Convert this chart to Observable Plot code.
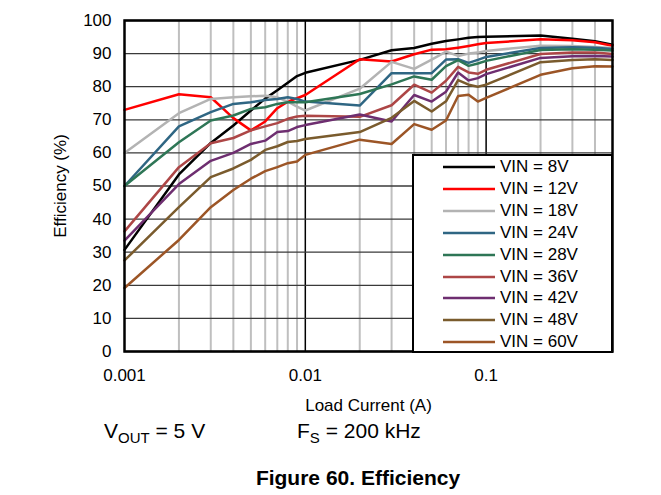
<!DOCTYPE html>
<html><head><meta charset="utf-8">
<script src="https://cdn.jsdelivr.net/npm/d3@7"></script>
<script src="https://cdn.jsdelivr.net/npm/@observablehq/plot@0.6"></script>
<style>
body{margin:0;background:#fff;font-family:"Liberation Sans",Arial,sans-serif;color:#000;}
#wrap{position:relative;width:661px;height:495px;overflow:hidden;background:#fff;}
#topline{position:absolute;left:0;top:2px;width:661px;height:0;border-top:1px solid #555;}
#legend{position:absolute;left:412px;top:154px;width:197px;height:195px;border:2px solid #000;background:#fff;box-sizing:content-box;}
.row{position:absolute;left:0;height:22px;display:flex;align-items:center;font-size:17px;}
.row svg{margin-left:29px;margin-right:5px;}
#cap1{position:absolute;left:104px;top:419px;font-size:21px;}
#cap2{position:absolute;left:297px;top:419px;font-size:21px;}
sub{font-size:15px;vertical-align:-5px;line-height:0;}
#title{position:absolute;left:0;width:716px;text-align:center;top:466px;font-size:21px;font-weight:bold;}
</style></head><body><div id="wrap"><div id="topline"></div></div>
<script>
const loadCurrent = [0.001,0.002,0.003,0.004,0.005,0.006,0.007,0.008,0.009,0.01,0.02,0.03,0.04,0.05,0.06,0.07,0.08,0.09,0.1,0.2,0.3,0.4,0.5];
const vin8  = [30.7,53.5,63,68.3,72.8,76.4,78.9,81.2,83.2,84.2, 88.1,91,91.7,93,93.8,94.3,94.8,95,95.1, 95.5,94.5,93.7,92.7];
const vin12 = [73,77.7,76.8,70.5,66.8,69.5,73.5,75.5,76.5,77.5, 88.3,87.6,89.8,91.2,91.3,91.8,92.3,92.8,93.2, 94.3,94,93.4,92.4];
const vin18 = [60,72,76.3,76.8,77.1,77.3,76.8,75.5,74,72.8, 79.4,87.5,85.4,88.2,90.6,89.3,90,90.3,90.8, 92.4,92.3,92,91.7];
const vin24 = [50,68,72.3,74.8,75.3,76,76.3,76.8,76.3,75.5, 74.3,84.1,84.1,84.1,88.2,88.3,87.2,88.1,89, 91.7,91.9,91.8,91.4];
const vin28 = [50,63.2,69.8,71.3,73.3,73.8,74.8,75.3,75.3,75.3, 77.8,80.7,83.1,82.1,86.2,88,86.3,87,87.8, 91.1,91.3,91.2,90.9];
const vin36 = [36.3,55.7,62.9,64.5,66.8,68,69,70.3,71,71.2, 70.9,74.4,80.6,78.2,81.8,86,84.3,83.9,85.1, 89.9,90.3,90.3,89.9];
const vin42 = [33.5,50.6,57.6,60,62.7,63.7,66.3,66.6,67.8,68.4, 71.6,69.5,77.5,75.5,78.5,84.3,81.9,82.6,83.8, 88.7,89.2,89.3,89.1];
const vin48 = [27.5,43.6,52.7,55.3,57.9,60.9,62,63.3,63.6,64.2, 66.3,70.6,75.7,72.5,75.6,82,80.6,80,80.6, 87.4,88.1,88.3,88.1];
const vin60 = [19.2,33.7,43.6,48.8,52.2,54.5,55.7,56.9,57.4,59.4, 64,62.7,68.7,67,69.8,77.2,77.6,75.5,76.6, 83.6,85.6,86.2,86.1];

const seriesNames = ["VIN = 8V","VIN = 12V","VIN = 18V","VIN = 24V","VIN = 28V","VIN = 36V","VIN = 42V","VIN = 48V","VIN = 60V"];
const seriesValues = [vin8,vin12,vin18,vin24,vin28,vin36,vin42,vin48,vin60];
const seriesColors = ["#000000","#ff0000","#b3b3b3","#2f6683","#2e7656","#ad4646","#6e2e70","#7a5b2d","#9c5526"];

const xTicks = [0.001,0.01,0.1];
const xTickLabels = ["0.001","0.01","0.1"];
const yTicks = [0,10,20,30,40,50,60,70,80,90,100];
const minorGrid = [0.002,0.003,0.004,0.005,0.006,0.007,0.008,0.009,0.02,0.03,0.04,0.05,0.06,0.07,0.08,0.09,0.2,0.3,0.4];

const data = seriesNames.flatMap((s,k)=>loadCurrent.map((x,i)=>({s, x, y: seriesValues[k][i]})));

const chart = Plot.plot({
  width: 661, height: 415,
  marginLeft: 124, marginRight: 49, marginTop: 20, marginBottom: 64,
  style: {fontFamily: "Liberation Sans, Arial, sans-serif", fontSize: "17px", color: "#000", background: "#fff", overflow: "visible"},
  x: {type: "log", domain: [0.001, 0.5]},
  y: {domain: [0, 100]},
  color: {domain: seriesNames, range: seriesColors},
  marks: [
    Plot.ruleX(minorGrid, {stroke: "#bfbfbf", strokeWidth: 2}),
    Plot.ruleX([0.01, 0.1], {stroke: "#000", strokeWidth: 1.5}),
    Plot.ruleY(yTicks, {stroke: "#3a3a3a", strokeWidth: 1.3}),
    Plot.line(data, {x: "x", y: "y", z: "s", stroke: "s", strokeWidth: 2.5}),
    Plot.frame({stroke: "#000", strokeWidth: 2.5}),
    Plot.axisX({ticks: xTicks, tickFormat: d => xTickLabels[xTicks.indexOf(d)], tickSize: 0, tickPadding: 17, fontSize: 17,
      label: "Load Current (A)", labelAnchor: "center", labelArrow: "none", labelOffset: 59}),
    Plot.axisY({ticks: yTicks, tickSize: 0, tickPadding: 13, fontSize: 17,
      label: "Efficiency (%)", labelAnchor: "center", labelArrow: "none", labelOffset: 71})
  ]
});
chart.style.position = "absolute";
chart.style.left = "0px";
chart.style.top = "0px";
const wrap = document.getElementById("wrap");
wrap.appendChild(chart);

const legend = document.createElement("div");
legend.id = "legend";
seriesNames.forEach((name, k) => {
  const row = document.createElement("div");
  row.className = "row";
  row.style.top = (0 + k * 21.9) + "px";
  row.innerHTML = `<svg width="52" height="6"><line x1="0" y1="3" x2="52" y2="3" stroke="${seriesColors[k]}" stroke-width="2.5"/></svg><span>${name}</span>`;
  legend.appendChild(row);
});
wrap.appendChild(legend);

const c1 = document.createElement("div"); c1.id = "cap1"; c1.innerHTML = "V<sub>OUT</sub> = 5 V"; wrap.appendChild(c1);
const c2 = document.createElement("div"); c2.id = "cap2"; c2.innerHTML = "F<sub>S</sub> = 200 kHz"; wrap.appendChild(c2);
const t = document.createElement("div"); t.id = "title"; t.textContent = "Figure 60. Efficiency"; wrap.appendChild(t);
</script>
</body></html>
